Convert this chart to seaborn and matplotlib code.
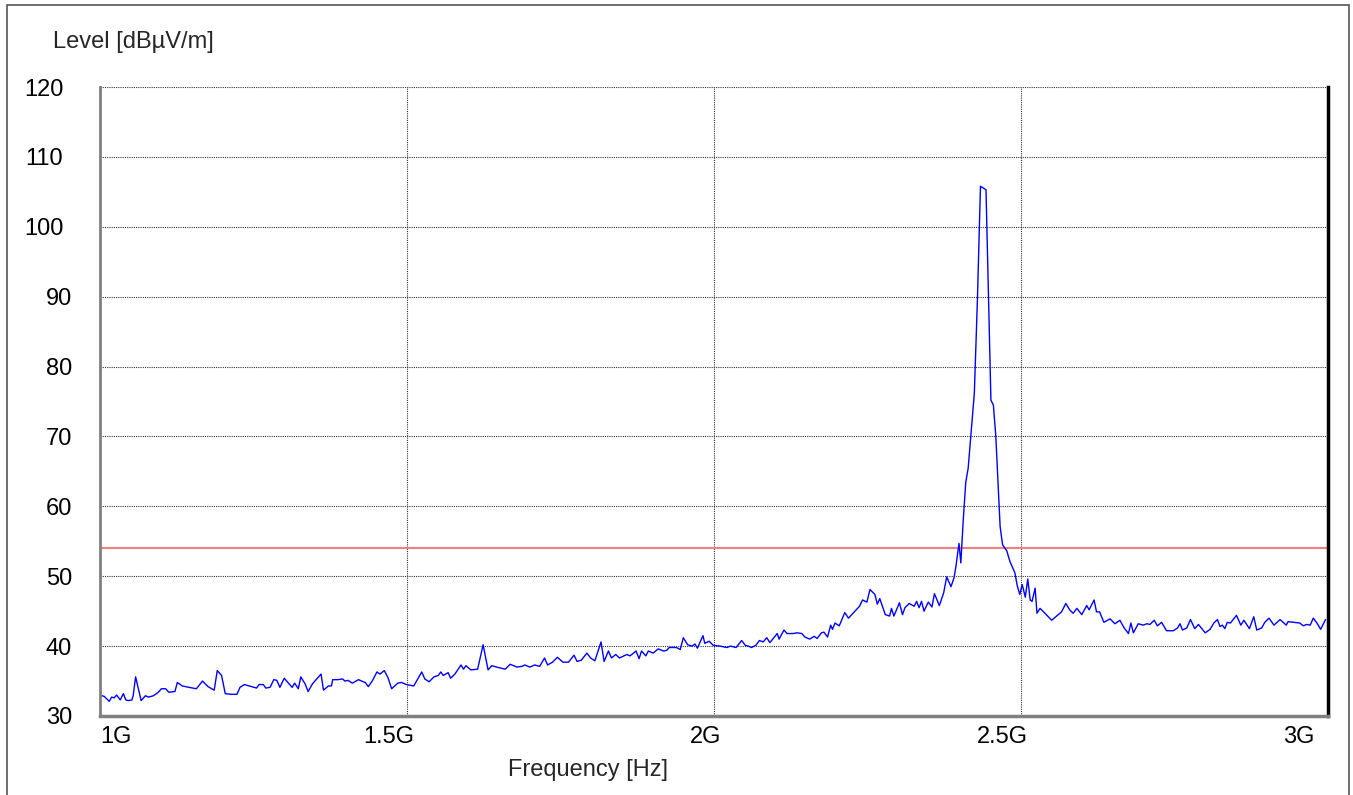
import matplotlib
matplotlib.use("Agg")
import matplotlib.pyplot as plt
import matplotlib.transforms as mtransforms
from matplotlib.patches import Rectangle
import numpy as np
import pandas as pd
import seaborn as sns

# Radiated emission sweep: frequency [MHz] and measured level [dBuV/m]
freq_mhz = [
    1000, 1003, 1007, 1015, 1019, 1023, 1027, 1033, 1038, 1042, 1046, 1052, 1054, 1058, 1067,
    1074, 1079, 1087, 1095, 1100, 1107, 1112, 1122, 1126, 1134, 1145, 1157, 1167, 1176, 1186,
    1191, 1198, 1204, 1214, 1223, 1228, 1235, 1247, 1255, 1259, 1266, 1270, 1277, 1283, 1288,
    1293, 1300, 1307, 1313, 1317, 1323, 1327, 1334, 1339, 1346, 1353, 1360, 1364, 1372, 1377,
    1379, 1388, 1395, 1399, 1404, 1411, 1421, 1426, 1432, 1437, 1444, 1451, 1456, 1463, 1469,
    1475, 1485, 1491, 1499,
    1511, 1524, 1529, 1536, 1544, 1551, 1555, 1559, 1567, 1571, 1578, 1588, 1592, 1596, 1604,
    1615, 1624, 1632, 1638, 1646, 1660, 1668, 1679, 1687, 1692, 1700, 1708, 1716, 1724, 1729,
    1737, 1745, 1754, 1763, 1772, 1777, 1784, 1793, 1799, 1806, 1816, 1821, 1828, 1833, 1840,
    1846, 1853, 1858, 1863, 1869, 1873, 1878, 1882, 1889, 1893, 1901, 1909, 1918, 1923, 1927,
    1939, 1945, 1950, 1957, 1964, 1969, 1973,
    1982, 1985, 1992, 1999, 2010, 2021, 2027, 2036, 2045, 2051, 2056, 2061, 2068, 2074, 2080,
    2086, 2091, 2103, 2106, 2114, 2119, 2129, 2135, 2143, 2148, 2156, 2163, 2168, 2175, 2179,
    2185, 2190, 2193, 2197, 2204, 2213, 2219, 2237, 2242, 2249, 2254, 2262, 2266, 2270, 2279,
    2286, 2289, 2293, 2302,
    2307, 2311, 2318, 2326, 2330, 2334, 2338, 2342, 2349, 2355, 2359, 2367, 2374, 2379, 2386,
    2391, 2394, 2399, 2402, 2406, 2410, 2414, 2424, 2429, 2434, 2443, 2447, 2451, 2455, 2459,
    2466,
    2470, 2477, 2482, 2490, 2494, 2498, 2502, 2507, 2511, 2515, 2518, 2523, 2526, 2531, 2539,
    2550, 2566, 2573, 2580, 2585, 2591, 2599, 2607, 2611, 2619, 2623, 2628, 2635, 2645, 2653,
    2661, 2668, 2675, 2679, 2683, 2691, 2699, 2705, 2710, 2717, 2722, 2729, 2737, 2748, 2755,
    2759, 2763, 2770, 2776, 2783, 2789, 2800, 2808, 2814, 2820, 2824, 2828, 2832, 2836, 2841,
    2851, 2858, 2863, 2872, 2879, 2884, 2892, 2897, 2904, 2912, 2922, 2932, 2935, 2954, 2960,
    2965, 2971, 2976, 2982, 2988, 2996,
]

level_dbuv = [
    33.1, 32.9, 32.8, 32.1, 32.7, 32.6, 33.0, 32.3, 33.2, 32.3, 32.2, 32.3, 32.9, 35.6, 32.2,
    32.9, 32.7, 32.9, 33.4, 33.9, 33.9, 33.4, 33.5, 34.8, 34.3, 34.1, 33.9, 35.0, 34.2, 33.7,
    36.5, 35.8, 33.2, 33.1, 33.1, 34.1, 34.5, 34.2, 34.0, 34.5, 34.5, 34.0, 34.1, 35.2, 35.1,
    34.1, 35.4, 34.7, 34.1, 34.7, 33.9, 35.6, 34.6, 33.5, 34.6, 35.3, 36.0, 33.7, 34.3, 34.3,
    35.2, 35.2, 35.3, 35.0, 35.1, 34.7, 35.2, 35.0, 34.8, 34.2, 35.1, 36.3, 36.0, 36.5, 35.5,
    33.9, 34.7, 34.8, 34.5,
    34.3, 36.3, 35.3, 34.9, 35.6, 35.8, 36.3, 35.8, 36.2, 35.4, 36.0, 37.3, 36.7, 37.2, 36.6,
    36.7, 40.2, 36.6, 37.2, 37.0, 36.7, 37.4, 37.0, 37.1, 37.3, 37.0, 37.3, 37.1, 38.3, 37.3,
    37.7, 38.4, 37.7, 37.7, 38.7, 37.8, 38.0, 39.0, 38.3, 37.9, 40.6, 37.8, 39.3, 38.3, 38.8,
    38.3, 38.6, 38.8, 38.6, 39.0, 39.3, 38.2, 39.3, 38.6, 39.3, 39.0, 39.6, 39.3, 39.4, 39.8,
    39.8, 39.5, 41.2, 40.2, 40.0, 40.3, 39.7,
    41.5, 40.4, 40.7, 40.1, 40.0, 39.8, 40.0, 39.8, 40.8, 40.1, 40.0, 39.8, 40.1, 40.8, 40.6,
    41.2, 40.5, 41.8, 41.0, 42.3, 41.8, 41.8, 41.9, 41.8, 41.3, 41.0, 41.4, 41.1, 41.9, 42.0,
    41.3, 43.0, 42.4, 43.3, 42.9, 44.8, 44.0, 45.7, 46.6, 46.3, 48.1, 47.4, 46.0, 46.8, 44.5,
    44.3, 45.4, 44.3, 46.2,
    44.5, 45.5, 46.1, 45.7, 46.4, 45.5, 46.4, 45.0, 46.3, 45.6, 47.5, 45.8, 47.6, 49.9, 48.5,
    49.8, 51.4, 54.7, 51.9, 58.1, 63.4, 65.5, 76.2, 89.5, 105.8, 105.3, 90.5, 75.2, 74.5, 70.0,
    57.1,
    54.5, 53.6, 52.1, 50.5, 48.6, 47.4, 48.8, 47.0, 49.6, 46.6, 46.4, 48.3, 44.7, 45.4, 44.7,
    43.7, 44.9, 46.1, 45.1, 44.7, 45.4, 44.5, 45.8, 45.2, 46.6, 44.9, 44.9, 43.4, 43.9, 43.2,
    43.7, 42.6, 41.8, 43.3, 41.9, 43.2, 43.0, 43.2, 43.1, 43.7, 42.9, 43.4, 42.2, 42.2, 42.6,
    43.2, 42.3, 42.6, 43.8, 42.5, 43.1, 41.9, 42.4, 43.3, 43.8, 42.8, 43.0, 42.5, 43.4, 43.3,
    44.4, 43.0, 43.7, 42.5, 44.2, 42.3, 42.6, 43.4, 44.0, 43.0, 43.8, 43.0, 43.5, 43.3, 42.9,
    43.1, 43.0, 44.0, 43.3, 42.4, 43.8,
]

limit_level = 54.0
x_ticks_ghz = [1.0, 1.5, 2.0, 2.5, 3.0]
x_tick_labels = ["1G", "1.5G", "2G", "2.5G", "3G"]
y_ticks = [30, 40, 50, 60, 70, 80, 90, 100, 110, 120]

sns.set_style("white")
plt.rcParams["font.family"] = ["Liberation Sans", "DejaVu Sans"]

df = pd.DataFrame({"freq_ghz": np.asarray(freq_mhz) / 1000.0, "level": level_dbuv})

W, H = 1353, 795
fig = plt.figure(figsize=(W / 100, H / 100), dpi=100)
ax = fig.add_axes([100 / W, 1 - 716 / H, (1328 - 100) / W, (716 - 87) / H])

grid_kw = dict(color="#333333", linestyle=(0, (1, 1)), linewidth=0.8)
for gx in x_ticks_ghz[1:-1]:
    ax.axvline(gx, zorder=1, **grid_kw)
for gy in y_ticks[1:]:
    ax.axhline(gy, zorder=1, **grid_kw)

ax.axhline(limit_level, color="#f28080", linewidth=1.5, zorder=2)
sns.lineplot(data=df, x="freq_ghz", y="level", ax=ax, sort=False, estimator=None,
             color="#0000ff", linewidth=1.0, zorder=3)

ax.set_xlim(1.0, 3.0)
ax.set_ylim(30, 120)
ax.set_xticks(x_ticks_ghz)
ax.set_xticklabels(x_tick_labels)
ax.set_yticks(y_ticks)
ax.set_yticklabels([str(v) for v in y_ticks])
ax.tick_params(axis="both", length=0, labelsize=17, colors="black")
ax.tick_params(axis="x", pad=7)
ax.tick_params(axis="y", pad=20)

# x tick labels: first anchored left, others right-anchored just past the tick
for i, lab in enumerate(ax.get_xticklabels()):
    if i == 0:
        lab.set_ha("left")
        dx = 0
    elif i == len(x_tick_labels) - 1:
        lab.set_ha("right")
        dx = -14
    else:
        lab.set_ha("right")
        dx = 7
    lab.set_transform(lab.get_transform() + mtransforms.ScaledTranslation(dx / 100, 0, fig.dpi_scale_trans))

# y tick labels: two-digit values end further right than three-digit ones
for lab, v in zip(ax.get_yticklabels(), y_ticks):
    lab.set_ha("right")
    dx = -9 if v >= 100 else 0
    lab.set_transform(lab.get_transform() + mtransforms.ScaledTranslation(dx / 100, 0, fig.dpi_scale_trans))

ax.set_xlabel("Frequency [Hz]", fontsize=17)
ax.xaxis.set_label_coords((588 - 100) / 1228, -(770 - 716) / 629)
ax.xaxis.label.set_va("center")
ax.set_ylabel("")
fig.text(53 / W, 1 - 42 / H, "Level [dBµV/m]", fontsize=17, ha="left", va="center")

ax.spines["top"].set_visible(False)
ax.spines["left"].set_color("#808080")
ax.spines["left"].set_linewidth(2.0)
ax.spines["bottom"].set_color("#808080")
ax.spines["bottom"].set_linewidth(2.5)
ax.spines["right"].set_color("black")
ax.spines["right"].set_linewidth(2.5)
for s in ax.spines.values():
    s.set_zorder(4)

# outer frame around the whole graphic
fig.patches.append(Rectangle((7 / W, -0.02), (1349 - 7) / W, 1 - 5 / H + 0.02,
                             transform=fig.transFigure, fill=False,
                             edgecolor="#555555", linewidth=1.2))

fig.savefig("out.png", dpi=100)
